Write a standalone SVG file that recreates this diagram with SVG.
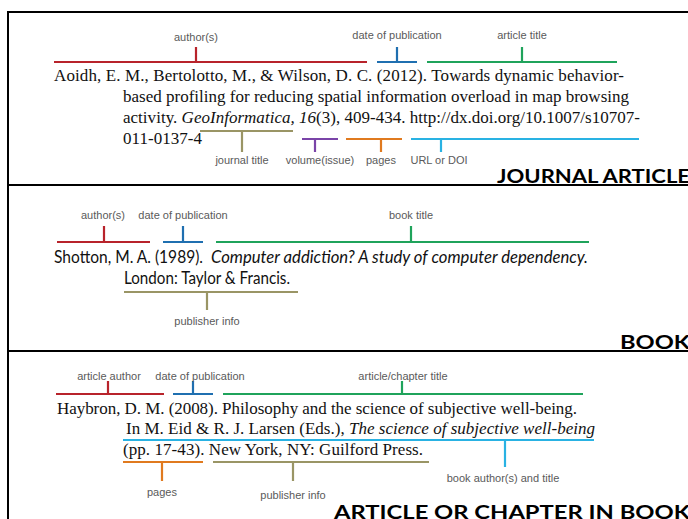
<svg xmlns="http://www.w3.org/2000/svg" width="688" height="519" viewBox="0 0 688 519">
<style>
.frame{fill:none;stroke:#000;stroke-width:2}
.br{fill:none;stroke-width:2.2}
.lbl{font-family:"Liberation Sans",Arial,sans-serif;font-size:11px;fill:#5a5a5a;text-anchor:middle}
.serif{font-family:"Liberation Serif","Times New Roman",serif;font-size:17px;fill:#111}
.sans{font-family:Lato,"Open Sans",sans-serif;font-size:16.5px;fill:#111}
.it{font-style:italic}
.head{font-family:Lato,"Open Sans",sans-serif;font-size:19px;font-weight:bold;fill:#000}
.red{stroke:#b8232b}.blue{stroke:#1f6fb0}.green{stroke:#1fa35b}.olive{stroke:#9a9565}.purple{stroke:#7a44a8}.orange{stroke:#e07a1f}.cyan{stroke:#29b2e3}
</style>
<rect width="688" height="519" fill="#fff"/>
<g id="frame">
<path class="frame" d="M8,519 V12 H700"/>
<path class="frame" d="M8,185 H700 M8,351 H700"/>
</g>
<g id="headings">
<text class="head" x="497" y="183" textLength="193" lengthAdjust="spacingAndGlyphs">JOURNAL ARTICLE</text>
<text class="head" x="620" y="349" textLength="70" lengthAdjust="spacingAndGlyphs">BOOK</text>
<text class="head" x="334" y="519" textLength="356" lengthAdjust="spacingAndGlyphs">ARTICLE OR CHAPTER IN BOOK</text>
</g>
<g id="citations">
<text class="serif" x="54" y="81" textLength="570" lengthAdjust="spacing">Aoidh, E. M., Bertolotto, M., &amp; Wilson, D. C. (2012). Towards dynamic behavior-</text>
<text class="serif" x="123" y="102" textLength="506" lengthAdjust="spacing">based profiling  for reducing spatial information overload in map browsing</text>
<text class="serif" x="123" y="123" textLength="517" lengthAdjust="spacing">activity. <tspan class="it">GeoInformatica, 16</tspan>(3), 409-434. http://dx.doi.org/10.1007/s10707-</text>
<text class="serif" x="123" y="144" textLength="79" lengthAdjust="spacing">011-0137-4</text>
<text class="sans" x="54" y="263" textLength="149" lengthAdjust="spacingAndGlyphs">Shotton, M. A. (1989).</text>
<text class="sans it" x="211" y="263" textLength="377" lengthAdjust="spacingAndGlyphs">Computer addiction? A study of computer dependency.</text>
<text class="sans" x="124" y="284" textLength="166" lengthAdjust="spacingAndGlyphs">London: Taylor &amp; Francis.</text>
<text class="serif" x="57" y="414" textLength="520" lengthAdjust="spacing">Haybron, D. M. (2008). Philosophy and the science of subjective well-being.</text>
<text class="serif" x="126" y="434" textLength="469" lengthAdjust="spacing">In M. Eid &amp; R. J. Larsen (Eds.), <tspan class="it">The science of subjective well-being</tspan></text>
<text class="serif" x="123" y="455" textLength="300" lengthAdjust="spacing">(pp. 17-43). New York, NY: Guilford Press.</text>
</g>
<g id="connectors">
<path class="br red" d="M54,62 H367 M196,47 V62"/>
<path class="br blue" d="M377,62 H417 M397,47 V62"/>
<path class="br green" d="M427,62 H617 M522,47 V62"/>
<path class="br olive" d="M200,131 H293 M242,131 V152"/>
<path class="br purple" d="M302,139 H338 M315,139 V152"/>
<path class="br orange" d="M346,139 H402 M381,139 V152"/>
<path class="br cyan" d="M411,139 H639 M441,139 V152"/>
<path class="br red" d="M57,242 H150 M104,226 V242"/>
<path class="br blue" d="M163,242 H203 M183,226 V242"/>
<path class="br green" d="M216,242 H589 M411,226 V242"/>
<path class="br olive" d="M124,292 H298 M207,292 V310"/>
<path class="br red" d="M56,394 H164 M108,381 V394"/>
<path class="br blue" d="M173,394 H213 M193,381 V394"/>
<path class="br green" d="M223,394 H583 M402,381 V394"/>
<path class="br cyan" d="M123,440 H594 M505,440 V467"/>
<path class="br orange" d="M123,462 H203 M162,462 V481"/>
<path class="br olive" d="M213,462 H429 M293,462 V481"/>
</g>
<g id="labels">
<text class="lbl" x="196" y="41">author(s)</text>
<text class="lbl" x="397" y="39">date of publication</text>
<text class="lbl" x="522" y="39">article title</text>
<text class="lbl" x="242" y="164">journal title</text>
<text class="lbl" x="320" y="164">volume(issue)</text>
<text class="lbl" x="381" y="164">pages</text>
<text class="lbl" x="439" y="164">URL or DOI</text>
<text class="lbl" x="103" y="219">author(s)</text>
<text class="lbl" x="183" y="219">date of publication</text>
<text class="lbl" x="411" y="219">book title</text>
<text class="lbl" x="207" y="325">publisher info</text>
<text class="lbl" x="109" y="380">article author</text>
<text class="lbl" x="200" y="380">date of publication</text>
<text class="lbl" x="403" y="380">article/chapter title</text>
<text class="lbl" x="503" y="482">book author(s) and title</text>
<text class="lbl" x="162" y="496">pages</text>
<text class="lbl" x="293" y="499">publisher info</text>
</g>
</svg>
